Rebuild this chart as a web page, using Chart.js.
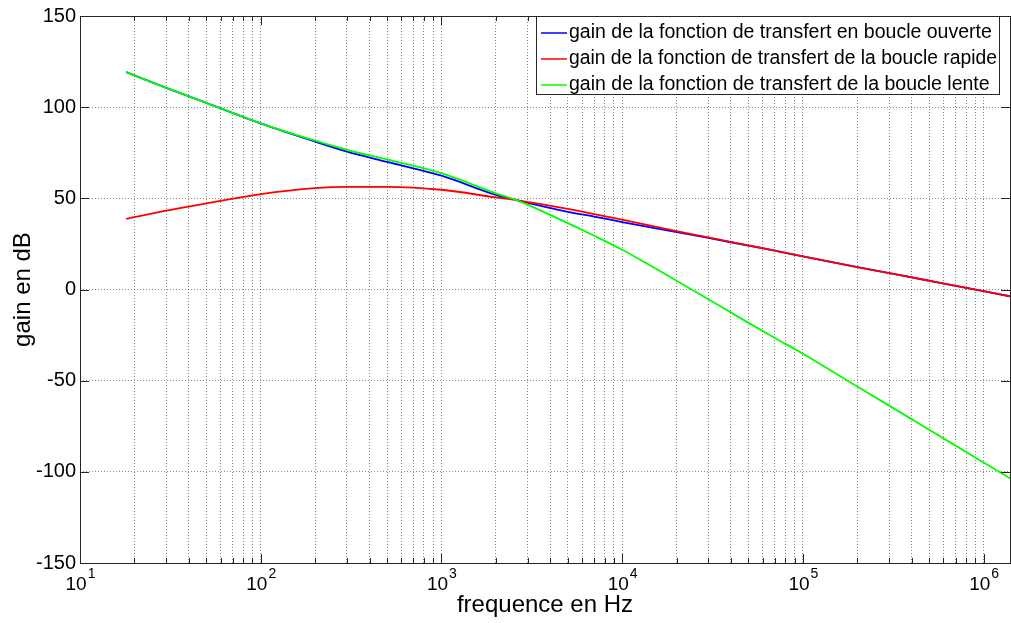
<!DOCTYPE html>
<html>
<head>
<meta charset="utf-8">
<script src="https://cdn.jsdelivr.net/npm/chart.js@4.4.0/dist/chart.umd.min.js"></script>
<style>
  body { margin: 0; background: #fff; }
  canvas { display: block; }
</style>
</head>
<body>
<canvas id="bodeChart" width="1011" height="623"></canvas>
<script>
'use strict';

// frequences (Hz) et gains (dB)
var freq      = [18, 30, 50, 100, 200, 300, 500, 1000, 2000, 2600, 5000, 7000, 1e4, 2e4, 3e4, 5e4, 7e4, 1e5, 2e5, 5e5, 1e6, 1.4e6];
var gainOpen  = [119.2, 110.6, 102.4, 91.1, 81.1, 75.6, 70.0, 62.4, 51.9, 49.0, 42.6, 40.0, 37.0, 31.5, 28.3, 24.0, 21.3, 18.2, 12.3, 4.8, -0.9, -3.7];
var gainFast  = [38.7, 43.2, 47.2, 52.3, 55.6, 56.3, 56.3, 54.7, 50.5, 49.0, 44.2, 41.4, 38.3, 32.0, 28.6, 24.2, 21.3, 18.2, 12.3, 4.8, -0.9, -3.7];
var gainSlow  = [119.2, 110.6, 102.4, 91.1, 81.6, 76.6, 71.3, 63.8, 52.7, 49.0, 36.4, 29.5, 21.8, 4.8, -5.3, -18.3, -26.6, -35.2, -53.2, -76.9, -94.9, -103.5];

var yTicks    = [-150, -100, -50, 0, 50, 100, 150];
var xDecades  = [1, 2, 3, 4, 5, 6];
var xMin = 10, xMax = 1.4e6;

var legendLabels = [
    'gain de la fonction de transfert en boucle ouverte',
    'gain de la fonction de transfert de la boucle rapide',
    'gain de la fonction de transfert de la boucle lente'
];
var lineColors = ['#0000ff', '#ff0000', '#00ff00'];

var FONT = "'Liberation Sans', Arial, Helvetica, sans-serif";

function toPoints(values) {
    return freq.map(function (f, i) { return { x: f, y: values[i] }; });
}

function isDecade(v) {
    var l = Math.log10(v);
    return Math.abs(l - Math.round(l)) < 1e-9;
}

// cadre, graduations interieures, etiquettes 10^n et legende facon matlab
var matlabFrame = {
    id: 'matlabFrame',
    afterDraw: function (chart) {
        var ctx = chart.ctx, area = chart.chartArea;
        var xs = chart.scales.x, ys = chart.scales.y;
        ctx.save();

        ctx.strokeStyle = '#262626';
        ctx.lineWidth = 1;
        ctx.beginPath();
        xs.ticks.forEach(function (t) {
            var px = Math.round(xs.getPixelForValue(t.value)) + 0.5;
            var len = isDecade(t.value) ? 9 : 5;
            ctx.moveTo(px, area.bottom); ctx.lineTo(px, area.bottom - len);
            ctx.moveTo(px, area.top); ctx.lineTo(px, area.top + len);
        });
        ys.ticks.forEach(function (t) {
            var py = Math.round(ys.getPixelForValue(t.value)) + 0.5;
            ctx.moveTo(area.left, py); ctx.lineTo(area.left + 9, py);
            ctx.moveTo(area.right, py); ctx.lineTo(area.right - 9, py);
        });
        ctx.stroke();
        ctx.strokeRect(area.left + 0.5, area.top + 0.5, area.right - area.left, area.bottom - area.top);

        // etiquettes 10^n
        ctx.fillStyle = '#000';
        ctx.textBaseline = 'alphabetic';
        ctx.textAlign = 'left';
        xDecades.forEach(function (d) {
            var px = xs.getPixelForValue(Math.pow(10, d));
            ctx.font = '19px ' + FONT;
            var wBase = ctx.measureText('10').width;
            ctx.font = '14px ' + FONT;
            var wExp = ctx.measureText(String(d)).width;
            var x0 = px - (wBase + wExp) / 2;
            ctx.font = '19px ' + FONT;
            ctx.fillText('10', x0, 590);
            ctx.font = '14px ' + FONT;
            ctx.fillText(String(d), x0 + wBase + 1, 578);
        });

        // legende
        var bx = 536.5, by = 16.5, bw = 463, bh = 78;
        ctx.fillStyle = '#fff';
        ctx.fillRect(bx, by, bw, bh);
        ctx.strokeStyle = '#262626';
        ctx.strokeRect(bx, by, bw, bh);
        ctx.font = '19.5px ' + FONT;
        legendLabels.forEach(function (lbl, i) {
            var rowY = 33 + i * 26;
            ctx.strokeStyle = lineColors[i];
            ctx.lineWidth = 1.5;
            ctx.beginPath();
            ctx.moveTo(541, rowY); ctx.lineTo(567, rowY);
            ctx.stroke();
            ctx.fillStyle = '#000';
            ctx.fillText(lbl, 569, rowY + 4.5, 428);
        });
        ctx.restore();
    }
};

var gridDash = {
    display: true,
    color: 'rgba(0, 0, 0, 0.45)',
    lineWidth: 1,
    drawTicks: false
};

new Chart(document.getElementById('bodeChart'), {
    type: 'line',
    data: {
        datasets: [
            {
                label: legendLabels[0],
                data: toPoints(gainOpen),
                borderColor: lineColors[0],
                borderWidth: 1.8,
                pointRadius: 0,
                cubicInterpolationMode: 'monotone',
                order: 2
            },
            {
                label: legendLabels[1],
                data: toPoints(gainFast),
                borderColor: lineColors[1],
                borderWidth: 1.8,
                pointRadius: 0,
                cubicInterpolationMode: 'monotone',
                order: 1
            },
            {
                label: legendLabels[2],
                data: toPoints(gainSlow),
                borderColor: lineColors[2],
                borderWidth: 1.8,
                pointRadius: 0,
                cubicInterpolationMode: 'monotone',
                order: 0
            }
        ]
    },
    options: {
        responsive: false,
        animation: false,
        layout: { padding: { top: 14, right: 1, left: 0, bottom: 0 } },
        plugins: {
            legend: { display: false },
            tooltip: { enabled: false }
        },
        scales: {
            x: {
                type: 'logarithmic',
                min: xMin,
                max: xMax,
                border: { display: false, dash: [1, 2] },
                grid: gridDash,
                ticks: { display: false },
                afterBuildTicks: function (scale) {
                    var ticks = [];
                    for (var e = 1; e <= 6; e++) {
                        for (var m = 1; m <= 9; m++) {
                            var v = m * Math.pow(10, e);
                            if (v >= xMin && v <= xMax) ticks.push({ value: v });
                        }
                    }
                    scale.ticks = ticks;
                },
                afterFit: function (scale) { scale.height = 60; },
                title: {
                    display: true,
                    text: 'frequence en Hz',
                    color: '#000',
                    font: { family: FONT, size: 24 },
                    padding: { top: 0, bottom: 3 }
                }
            },
            y: {
                min: -150,
                max: 150,
                border: { display: false, dash: [1, 2] },
                grid: gridDash,
                afterBuildTicks: function (scale) {
                    scale.ticks = yTicks.map(function (v) { return { value: v }; });
                },
                ticks: {
                    color: '#000',
                    padding: 4,
                    font: { family: FONT, size: 20 }
                },
                afterFit: function (scale) { scale.width = 80; },
                title: {
                    display: true,
                    text: 'gain en dB',
                    color: '#000',
                    font: { family: FONT, size: 24 },
                    padding: { top: 9, bottom: 0 }
                }
            }
        }
    },
    plugins: [matlabFrame]
});
</script>
</body>
</html>
